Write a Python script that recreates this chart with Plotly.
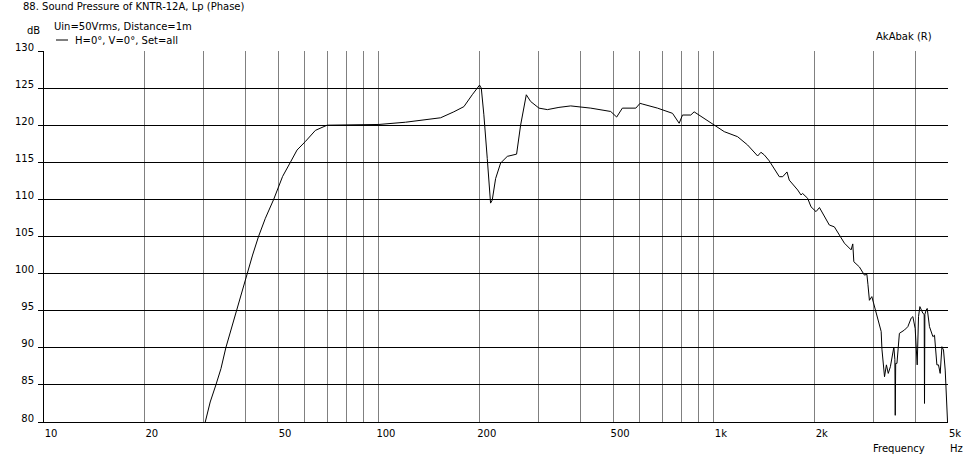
import math
import plotly.graph_objects as go

# ---- data ----
freq_hz = [30.3, 31.35, 32.6, 33.76, 34.9, 36.16, 37.4, 38.8, 40.4, 41.95, 43.7, 45.8, 48.5,
           51.57, 54.4, 56.94, 60.3, 64.6, 70, 80, 100, 120, 140,
           152.8, 167.3, 179.3, 189.9, 199.7, 202.1, 205.7, 210.6, 215.4, 217.9, 223, 230.8, 241.7,
           257.6, 264.8, 275.4, 283.7, 300.5, 318.4, 344.7, 373.7, 428.9, 492, 512.6, 521, 533,
           584.7, 602, 611, 678.8, 752.5, 787.7, 806, 853, 873, 903.5, 1000, 1074, 1177, 1261,
           1351, 1382, 1414, 1463, 1568, 1605, 1653, 1679, 1779, 1820, 1840, 1905, 1950, 2018,
           2066, 2211, 2289, 2453, 2568, 2598, 2617, 2719, 2814, 2863, 2884, 2913, 2962, 3029,
           3158, 3175, 3208, 3232, 3274, 3316, 3365, 3421, 3446, 3470, 3479, 3490, 3520, 3580,
           3708, 3794, 3882, 3927, 3990, 4046, 4083, 4121, 4159, 4207, 4245, 4254, 4265, 4304,
           4334, 4402, 4507, 4557, 4632, 4683, 4739, 4795, 4848, 4905, 4949, 4996]
spl_db = [80.0, 82.7, 85.0, 87.2, 90.0, 92.4, 95.0, 97.35, 100.0, 102.5, 105.0, 107.45, 110.0,
          113.1, 115.0, 116.65, 117.8, 119.3, 120.0, 120.05, 120.1, 120.4, 120.8,
          121.0, 121.8, 122.5, 124.1, 125.4, 125.0, 121.4, 115.5, 109.5, 109.9, 112.8, 114.9, 115.8,
          116.1, 120.0, 124.1, 123.2, 122.3, 122.1, 122.4, 122.6, 122.3, 121.85, 121.1, 121.6, 122.3,
          122.3, 122.95, 122.86, 122.3, 121.6, 120.26, 121.37, 121.37, 121.8, 121.37, 120.0, 119.13, 118.45, 117.33,
          115.85, 116.35, 116.0, 115.2, 113.06, 113.06, 113.7, 112.6, 111.27, 110.6, 110.8, 110.15, 109.0, 108.35,
          108.9, 106.55, 106.3, 104.1, 103.2, 104.0, 101.6, 100.9, 99.8, 99.9, 98.5, 96.4, 96.9, 95.3,
          92.2, 89.8, 87.45, 86.1, 87.7, 86.55, 87.45, 89.25, 90.1, 88.4, 80.9, 87.9, 87.9, 91.95,
          92.4, 92.85, 94.0, 94.2, 92.6, 87.7, 94.2, 95.55, 95.1, 94.65, 94.5, 82.5, 94.5, 95.1,
          95.3, 92.85, 91.5, 91.7, 87.7, 87.7, 86.55, 90.15, 89.7, 87.0, 82.5, 79.0]

x_grid_hz = [10, 20, 30, 40, 50, 60, 70, 80, 90, 100, 200, 300, 400, 500, 600, 700, 800, 900,
             1000, 2000, 3000, 4000, 5000]
x_label_map = {10: "10", 20: "20", 50: "50", 100: "100", 200: "200", 500: "500",
               1000: "1k", 2000: "2k", 5000: "5k"}
y_ticks = [80, 85, 90, 95, 100, 105, 110, 115, 120, 125, 130]

title_text = "88. Sound Pressure of KNTR-12A, Lp (Phase)"
subtitle_text = "Uin=50Vrms, Distance=1m"
legend_text = "H=0°, V=0°, Set=all"
y_unit = "dB"
brand_text = "AkAbak (R)"
x_title = "Frequency"
x_unit = "Hz"

# ---- layout geometry ----
W, H = 974, 461
L, R, T, B = 44, 26, 51, 39
PW, PH = W - L - R, H - T - B
FONT = "DejaVu Sans, Liberation Sans, sans-serif"
FS = 10


def px(xp):
    return (xp - L) / PW


def py(yp):
    return (H - B - yp) / PH


fig = go.Figure()
fig.add_trace(go.Scatter(x=freq_hz, y=spl_db, mode="lines",
                         line=dict(color="black", width=1), showlegend=False,
                         name=legend_text, hoverinfo="x+y"))

fig.update_layout(
    width=W, height=H,
    margin=dict(l=L, r=R, t=T, b=B, pad=0),
    paper_bgcolor="white", plot_bgcolor="white",
    font=dict(family=FONT, size=FS, color="black"),
    showlegend=False,
)
fig.update_xaxes(
    type="log", range=[1, math.log10(5000)],
    tickmode="array", tickvals=x_grid_hz,
    ticktext=[x_label_map.get(v, "") for v in x_grid_hz],
    showgrid=True, gridcolor="#808080", gridwidth=1,
    showline=True, linecolor="black", linewidth=1,
    ticks="", ticklabelshift=7, ticklabelstandoff=2,
    zeroline=False, tickfont=dict(family=FONT, size=FS, color="black"),
)
fig.update_yaxes(
    range=[80, 130], tickmode="array", tickvals=y_ticks,
    showgrid=True, gridcolor="black", gridwidth=1,
    showline=True, linecolor="black", linewidth=1,
    ticks="outside", ticklen=5, tickcolor="black", tickwidth=1,
    ticklabelshift=-4, ticklabelstandoff=2,
    zeroline=False, tickfont=dict(family=FONT, size=FS, color="black"),
)

ann = dict(xref="paper", yref="paper", showarrow=False,
           font=dict(family=FONT, size=FS, color="black"), yanchor="middle")
annotations = [
    dict(text=title_text, x=px(21), y=py(7), xanchor="left", **ann),
    dict(text=subtitle_text, x=px(52), y=py(26), xanchor="left", **ann),
    dict(text=y_unit, x=px(25), y=py(31), xanchor="left", **ann),
    dict(text=legend_text, x=px(73), y=py(40), xanchor="left", **ann),
    dict(text=brand_text, x=px(874), y=py(36), xanchor="left", **ann),
    dict(text=x_title, x=px(871), y=py(448), xanchor="left", **ann),
    dict(text=x_unit, x=px(948), y=py(448), xanchor="left", **ann),
]
fig.update_layout(annotations=annotations)
fig.add_shape(type="line", xref="paper", yref="paper",
              x0=px(56), x1=px(68), y0=py(40), y1=py(40),
              line=dict(color="black", width=1))

fig.write_html("out.html", config={"displayModeBar": False},
               post_script="document.body.style.margin='0';document.body.style.overflow='hidden';")
